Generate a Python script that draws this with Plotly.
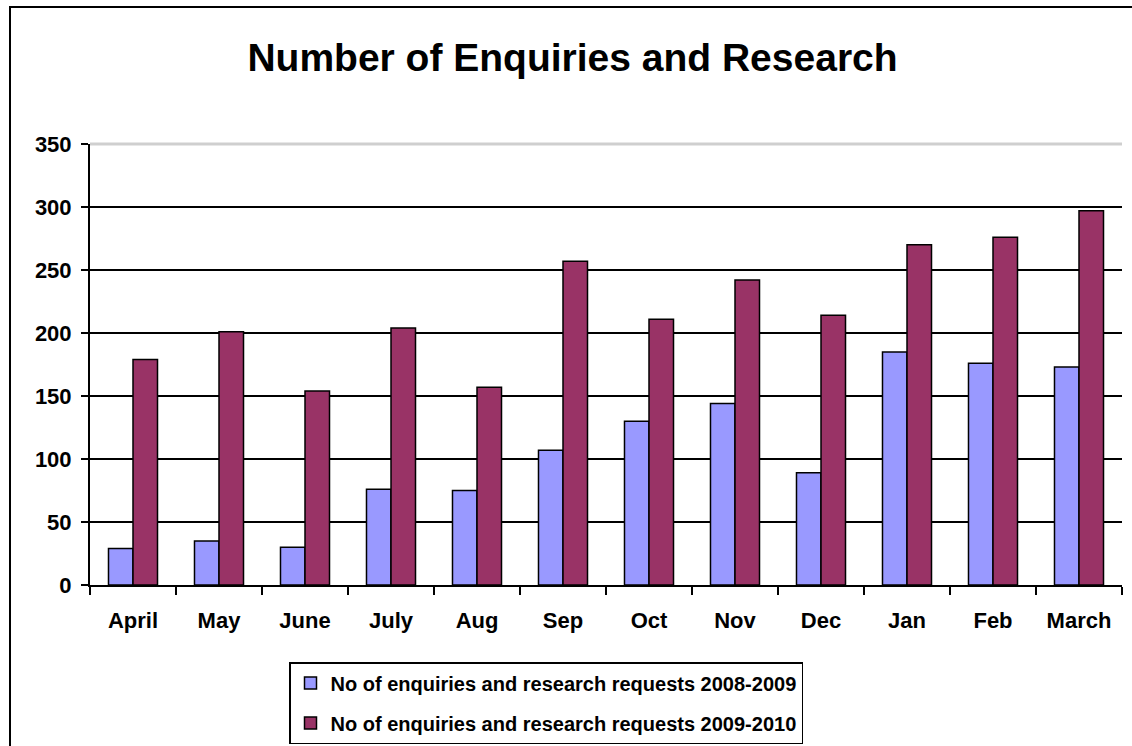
import plotly.graph_objects as go

months = ["April", "May", "June", "July", "Aug", "Sep", "Oct", "Nov", "Dec", "Jan", "Feb", "March"]
requests_2008_2009 = [29, 35, 30, 76, 75, 107, 130, 144, 89, 185, 176, 173]
requests_2009_2010 = [179, 201, 154, 204, 157, 257, 211, 242, 214, 270, 276, 297]
y_ticks = [0, 50, 100, 150, 200, 250, 300, 350]

FONT = "Liberation Sans, Arial, sans-serif"

fig = go.Figure()
fig.add_trace(go.Bar(
    x=months, y=requests_2008_2009,
    name="<b>No of enquiries and research requests 2008-2009</b>",
    marker=dict(color="#9999FF", line=dict(color="black", width=1.5)),
    legendgroup="a",
))
fig.add_trace(go.Bar(
    x=months, y=requests_2009_2010,
    name="<b>No of enquiries and research requests 2009-2010</b>",
    marker=dict(color="#993366", line=dict(color="black", width=1.5)),
    legendgroup="b",
))

fig.update_layout(
    width=1132, height=746,
    margin=dict(l=90, r=10, t=144, b=161, autoexpand=False),
    paper_bgcolor="white", plot_bgcolor="white",
    barmode="group", bargap=0.43, bargroupgap=0,
    font=dict(family=FONT, color="black"),
    title=dict(
        text="<b>Number of Enquiries and Research</b>",
        font=dict(size=39, family=FONT, color="black"),
        x=572.5 / 1132, xanchor="center", xref="container",
        y=1 - 57 / 746, yanchor="middle", yref="container",
    ),
    legend=dict(
        x=(289 - 90) / 1032, y=(585 - 662) / 441, xanchor="left", yanchor="top",
        orientation="v", bordercolor="black", borderwidth=1.5,
        font=dict(size=20, family=FONT, color="black"),
        tracegroupgap=11, bgcolor="white", itemwidth=30,
    ),
    xaxis=dict(
        showline=True, linecolor="black", linewidth=2,
        ticks="outside", tickson="boundaries", ticklen=8, tickwidth=2, tickcolor="black",
        tickfont=dict(size=22, family=FONT, color="black"),
        tickvals=months, ticktext=[f"<b>{m}</b>" for m in months],
        ticklabelstandoff=15,
        showgrid=False,
    ),
    yaxis=dict(
        range=[0, 350], tickvals=y_ticks, ticktext=[f"<b>{v}</b>" for v in y_ticks],
        showline=True, linecolor="black", linewidth=2,
        ticks="outside", ticklen=7, tickwidth=2, tickcolor="black",
        tickfont=dict(size=22, family=FONT, color="black"),
        ticklabelstandoff=5,
        showgrid=True, gridcolor="black", gridwidth=2,
        zeroline=False,
    ),
)

# Light grey top border of plot area (Excel style)
fig.add_shape(type="line", xref="paper", yref="paper", x0=0, x1=1, y0=1, y1=1,
              line=dict(color="#CFCFCF", width=3), layer="above")
# Outer chart frame (extends beyond the visible page on the right and bottom)
fig.add_shape(type="rect", xref="paper", yref="paper",
              x0=(10 - 90) / 1032, x1=1.2, y0=(585 - 7) / 441, y1=-0.6,
              line=dict(color="black", width=2), fillcolor="rgba(0,0,0,0)", layer="below")

fig.write_html("out.html",
               config={"displayModeBar": False},
               post_script="document.body.style.margin='0';document.body.style.padding='0';document.body.style.overflow='hidden';")
